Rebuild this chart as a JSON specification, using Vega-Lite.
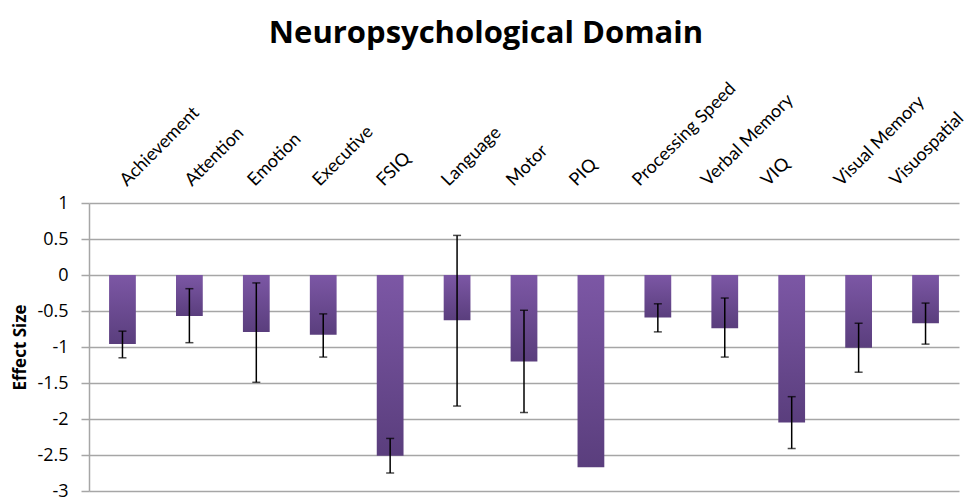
{
  "$schema": "https://vega.github.io/schema/vega-lite/v6.json",
  "autosize": "none",
  "width": 870,
  "height": 288,
  "padding": {"left": 89, "top": 203, "right": 10, "bottom": 7},
  "background": "white",
  "title": {
    "text": "Neuropsychological Domain",
    "font": "Open Sans",
    "fontSize": 31,
    "fontWeight": "bold",
    "color": "black",
    "anchor": "middle",
    "dx": -38,
    "offset": 29
  },
  "config": {
    "view": {"stroke": null},
    "axisY": {
      "labelExpr": "toString(datum.value)",
      "labelFont": "Open Sans",
      "labelFontSize": 18,
      "labelColor": "black",
      "labelPadding": 13,
      "labelOverlap": false,
      "labelFlush": false,
      "tickSize": 8,
      "tickColor": "#a6a6a6",
      "tickWidth": 1.5,
      "domainColor": "#a6a6a6",
      "domainWidth": 1.5,
      "gridColor": "#a6a6a6",
      "gridWidth": 1.5,
      "titleFont": "Open Sans",
      "titleFontSize": 17,
      "titleFontWeight": "bold",
      "titleColor": "black",
      "titlePadding": 7
    }
  },
  "data": {
    "values": [
      {"domain": "Achievement", "value": -0.96, "lo": -1.15, "hi": -0.78},
      {"domain": "Attention", "value": -0.57, "lo": -0.94, "hi": -0.19},
      {"domain": "Emotion", "value": -0.79, "lo": -1.49, "hi": -0.11},
      {"domain": "Executive", "value": -0.83, "lo": -1.14, "hi": -0.54},
      {"domain": "FSIQ", "value": -2.51, "lo": -2.75, "hi": -2.27},
      {"domain": "Language", "value": -0.63, "lo": -1.82, "hi": 0.55},
      {"domain": "Motor", "value": -1.2, "lo": -1.91, "hi": -0.49},
      {"domain": "PIQ", "value": -2.67, "lo": null, "hi": null},
      {"domain": "Processing Speed", "value": -0.59, "lo": -0.79, "hi": -0.4},
      {"domain": "Verbal Memory", "value": -0.74, "lo": -1.14, "hi": -0.32},
      {"domain": "VIQ", "value": -2.05, "lo": -2.41, "hi": -1.69},
      {"domain": "Visual Memory", "value": -1.01, "lo": -1.35, "hi": -0.67},
      {"domain": "Visuospatial", "value": -0.67, "lo": -0.96, "hi": -0.39}
    ]
  },
  "encoding": {
    "x": {
      "field": "domain",
      "type": "nominal",
      "sort": null,
      "title": null,
      "scale": {"paddingInner": 0.6, "paddingOuter": 0.3},
      "axis": {
        "orient": "top",
        "domain": false,
        "ticks": false,
        "grid": false,
        "labelAngle": -45,
        "labelAlign": "left",
        "labelBaseline": "middle",
        "labelPadding": 20,
        "labelFont": "Lato",
        "labelFontSize": 18,
        "labelColor": "black",
        "labelOverlap": false,
        "labelLimit": 300,
        "labelOffset": {
          "condition": [
            {"test": "datum.value === 'Attention'", "value": -1},
            {"test": "datum.value === 'Emotion'", "value": -5},
            {"test": "datum.value === 'Executive'", "value": -7},
            {"test": "datum.value === 'FSIQ'", "value": -10},
            {"test": "datum.value === 'Language'", "value": -12},
            {"test": "datum.value === 'Motor'", "value": -14},
            {"test": "datum.value === 'PIQ'", "value": -18},
            {"test": "datum.value === 'Processing Speed'", "value": -22},
            {"test": "datum.value === 'Verbal Memory'", "value": -20},
            {"test": "datum.value === 'VIQ'", "value": -27},
            {"test": "datum.value === 'Visual Memory'", "value": -21},
            {"test": "datum.value === 'Visuospatial'", "value": -32}
          ],
          "value": 1
        }
      }
    }
  },
  "layer": [
    {
      "mark": {
        "type": "bar",
        "color": {
          "gradient": "linear",
          "x1": 0, "y1": 0, "x2": 0, "y2": 1,
          "stops": [
            {"offset": 0, "color": "#7c57a5"},
            {"offset": 1, "color": "#5a3e7d"}
          ]
        }
      },
      "encoding": {
        "y": {
          "field": "value",
          "type": "quantitative",
          "title": "Effect Size",
          "scale": {"domain": [-3, 1], "nice": false, "zero": false},
          "axis": {"values": [-3, -2.5, -2, -1.5, -1, -0.5, 0, 0.5, 1]}
        }
      }
    },
    {
      "transform": [{"filter": "isValid(datum.lo)"}],
      "mark": {"type": "rule", "color": "black", "strokeWidth": 1.5},
      "encoding": {
        "y": {
          "field": "lo",
          "type": "quantitative",
          "title": "Effect Size",
          "scale": {"domain": [-3, 1], "nice": false, "zero": false},
          "axis": {"values": [-3, -2.5, -2, -1.5, -1, -0.5, 0, 0.5, 1]}
        },
        "y2": {"field": "hi"}
      }
    },
    {
      "transform": [{"filter": "isValid(datum.lo)"}],
      "mark": {"type": "tick", "color": "black", "thickness": 1.5, "size": 8, "orient": "horizontal"},
      "encoding": {
        "y": {
          "field": "lo",
          "type": "quantitative",
          "title": "Effect Size",
          "scale": {"domain": [-3, 1], "nice": false, "zero": false},
          "axis": {"values": [-3, -2.5, -2, -1.5, -1, -0.5, 0, 0.5, 1]}
        }
      }
    },
    {
      "transform": [{"filter": "isValid(datum.hi)"}],
      "mark": {"type": "tick", "color": "black", "thickness": 1.5, "size": 8, "orient": "horizontal"},
      "encoding": {
        "y": {
          "field": "hi",
          "type": "quantitative",
          "title": "Effect Size",
          "scale": {"domain": [-3, 1], "nice": false, "zero": false},
          "axis": {"values": [-3, -2.5, -2, -1.5, -1, -0.5, 0, 0.5, 1]}
        }
      }
    }
  ]
}
